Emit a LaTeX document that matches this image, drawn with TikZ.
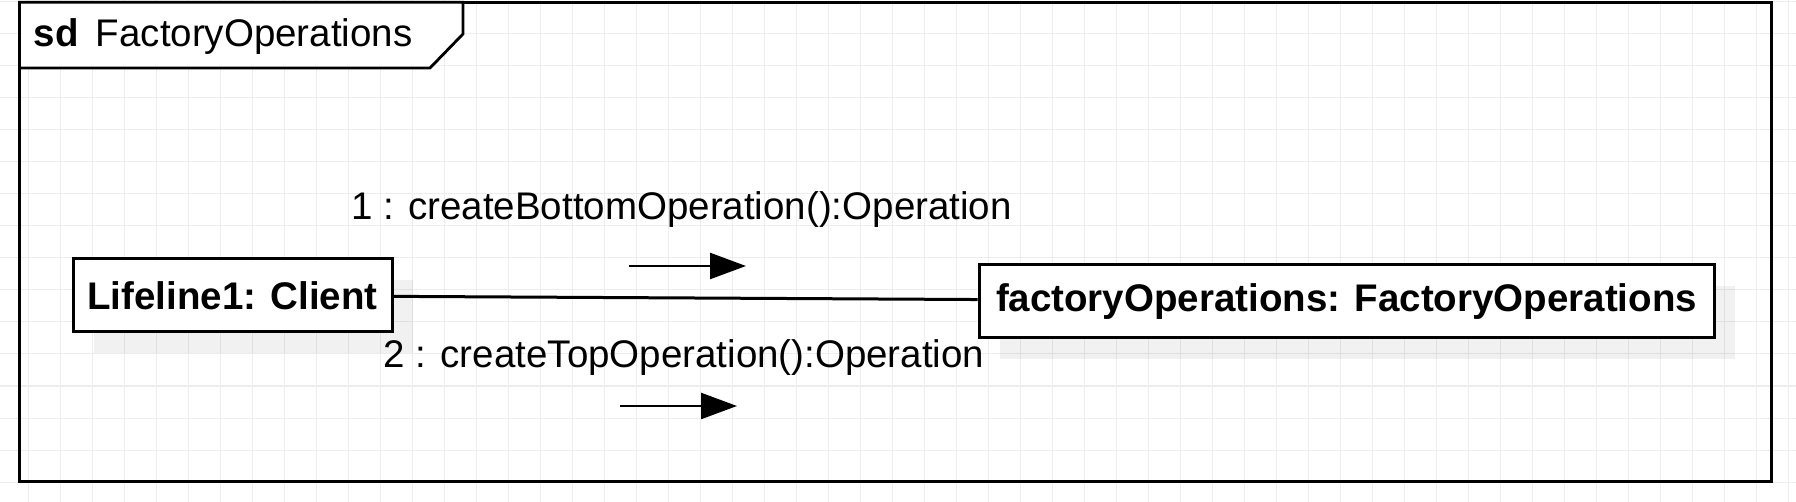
\documentclass[tikz,border=0pt]{standalone}
\usepackage{fontspec}
\setmainfont{Liberation Sans}
\usetikzlibrary{arrows.meta,shadows}
\definecolor{gridgray}{HTML}{EDEDED}
\newcommand{\umlfont}{\fontsize{38.5}{46}\selectfont}

\tikzset{
  lifeline/.style={draw=black,line width=3pt,fill=white,minimum height=73pt,inner sep=0pt,
    font=\umlfont\bfseries,
    drop shadow={shadow xshift=21pt,shadow yshift=-21pt,fill=black,opacity=0.055}},
  msglabel/.style={inner sep=0pt,anchor=base,font=\umlfont},
  msgarrow/.style={line width=2.4pt,-{Triangle[length=36pt,width=26pt]}},
}

\begin{document}
\begin{tikzpicture}[x=1pt,y=-1pt]
    \useasboundingbox (0,0) rectangle (1796,502);
    \fill[white] (0,0) rectangle (1796,502);

    % background grid
    \foreach \i in {0,...,55}
      \draw[gridgray,line width=1pt] (28.7+32*\i,0) -- (28.7+32*\i,502);
    \foreach \j in {0,...,15}
      \draw[gridgray,line width=1pt] (0,2+32*\j) -- (1796,2+32*\j);

    % frame and its tab
    \draw[line width=2.8pt] (19.5,2.3) rectangle (1771.7,481.3);
    \draw[line width=2.8pt,fill=white] (19.5,2.3) -- (463,2.3) -- (463,34) -- (430,68) -- (19.5,68) -- cycle;
    \node[anchor=base west,inner sep=0pt,font=\umlfont] (title) at (33.7,46.7)
      {\textbf{sd}\hspace{17pt}FactoryOperations};

    % lifelines
    \node[lifeline,minimum width=319pt] (client) at (232.5,295.5) {Lifeline1: Client};
    \node[lifeline,minimum width=735pt] (factory) at (1346.5,301.5) {factoryOperations: FactoryOperations};
    \draw[line width=3pt] (client) -- (factory);

    % messages
    \node[msglabel] (msg1) at (681.5,220) {1 : createBottomOperation():Operation};
    \coordinate (m1s) at (629,266);
    \coordinate (m1e) at (746,266);
    \draw[msgarrow] (m1s) -- (m1e);

    \node[msglabel] (msg2) at (684,367) {2 : createTopOperation():Operation};
    \coordinate (m2s) at (620,406);
    \coordinate (m2e) at (737,406);
    \draw[msgarrow] (m2s) -- (m2e);
\end{tikzpicture}
\end{document}
